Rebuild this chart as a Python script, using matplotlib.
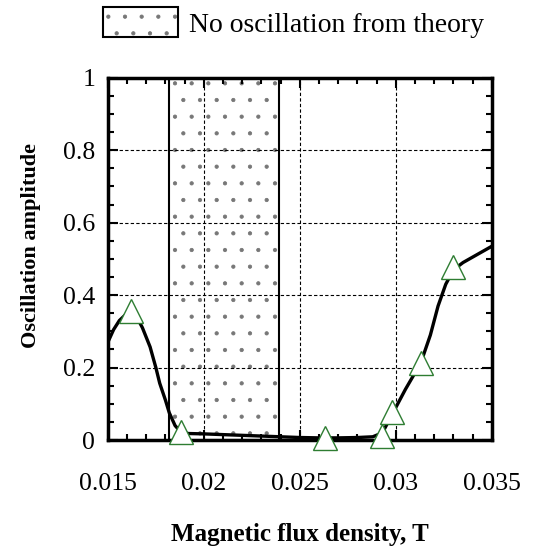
import matplotlib.pyplot as plt
from matplotlib.patches import Rectangle
from matplotlib.ticker import MultipleLocator, FuncFormatter

plt.rcParams['font.family'] = ['Liberation Serif', 'DejaVu Serif']
plt.rcParams['hatch.linewidth'] = 0.6

# measured points (triangles)
meas_b = [0.0162, 0.0188, 0.0263, 0.0293, 0.0298, 0.0313, 0.0330]
meas_amp = [0.355, 0.022, 0.005, 0.010, 0.077, 0.213, 0.478]

# fitted curve
curve_b = [0.0150, 0.0153, 0.0156, 0.0159, 0.0162, 0.0165, 0.0168, 0.0172, 0.0175,
           0.0177, 0.0180, 0.0182, 0.0185, 0.0188, 0.0192, 0.0200, 0.0210, 0.0220,
           0.0230, 0.0240, 0.0250, 0.0260, 0.0270, 0.0280, 0.0288, 0.0293, 0.0298,
           0.0305, 0.0313, 0.0318, 0.0322, 0.0326, 0.0330, 0.0335, 0.0340, 0.0345,
           0.0350]
curve_amp = [0.270, 0.305, 0.330, 0.345, 0.350, 0.340, 0.310, 0.257, 0.200,
             0.157, 0.110, 0.075, 0.040, 0.022, 0.018, 0.017, 0.015, 0.013,
             0.011, 0.009, 0.007, 0.006, 0.006, 0.007, 0.009, 0.020, 0.070,
             0.140, 0.213, 0.290, 0.370, 0.430, 0.470, 0.490, 0.505, 0.520,
             0.535]

# region with no oscillation predicted by theory
band_lo, band_hi = 0.0182, 0.0239

fig = plt.figure(figsize=(5.34, 5.48), dpi=100)
ax = fig.add_axes([0.202, 0.197, 0.719, 0.661])

dots = Rectangle((band_lo, 0), band_hi - band_lo, 1, facecolor='white',
                 edgecolor='#777777', hatch='.', linewidth=0, zorder=1)
edge = Rectangle((band_lo, 0), band_hi - band_lo, 1, facecolor='none',
                 edgecolor='black', linewidth=1.5, zorder=3)
ax.add_patch(dots)
ax.add_patch(edge)

ax.plot(curve_b, curve_amp, color='black', lw=2.4, zorder=4)
ax.plot(meas_b, meas_amp, ls='none', marker='^', ms=17, mfc='white',
        mec='#2e7d32', mew=1.0, zorder=7, clip_on=False)

ax.set_xlim(0.015, 0.035)
ax.set_ylim(0, 1)
ax.xaxis.set_major_locator(MultipleLocator(0.005))
ax.xaxis.set_minor_locator(MultipleLocator(0.001))
ax.yaxis.set_major_locator(MultipleLocator(0.2))
ax.yaxis.set_minor_locator(MultipleLocator(0.05))
ax.xaxis.set_major_formatter(FuncFormatter(lambda v, p: '%g' % round(v, 4)))
ax.yaxis.set_major_formatter(FuncFormatter(lambda v, p: '%g' % round(v, 2)))

ax.grid(True, which='major', color='black', ls=(0, (3, 2)), lw=0.8, zorder=2)
ax.set_axisbelow(False)
ax.tick_params(which='both', direction='in', top=True, right=True, width=1.5)
ax.tick_params(which='major', length=7, labelsize=18.5)
ax.tick_params(which='minor', length=4)
ax.tick_params(axis='x', pad=24)
ax.tick_params(axis='y', pad=9)
for s in ax.spines.values():
    s.set_linewidth(2.5)
    s.set_zorder(6)

ax.set_xlabel('Magnetic flux density, T', fontsize=18, fontweight='bold', labelpad=20)
ax.set_ylabel('Oscillation amplitude', fontsize=16, fontweight='bold')
ax.yaxis.set_label_coords(-0.174, 0.536)

h_dots = Rectangle((0, 0), 1, 1, facecolor='white', edgecolor='#777777', hatch='.', linewidth=0)
h_edge = Rectangle((0, 0), 1, 1, facecolor='none', edgecolor='black', linewidth=1.5)
fig.legend([(h_dots, h_edge)], ['No oscillation from theory'], loc='upper left',
           bbox_to_anchor=(0.146, 1.032), frameon=False, fontsize=20,
           handlelength=2.7, handleheight=1.26, handletextpad=0.4)

fig.savefig('out.png', dpi=100)
